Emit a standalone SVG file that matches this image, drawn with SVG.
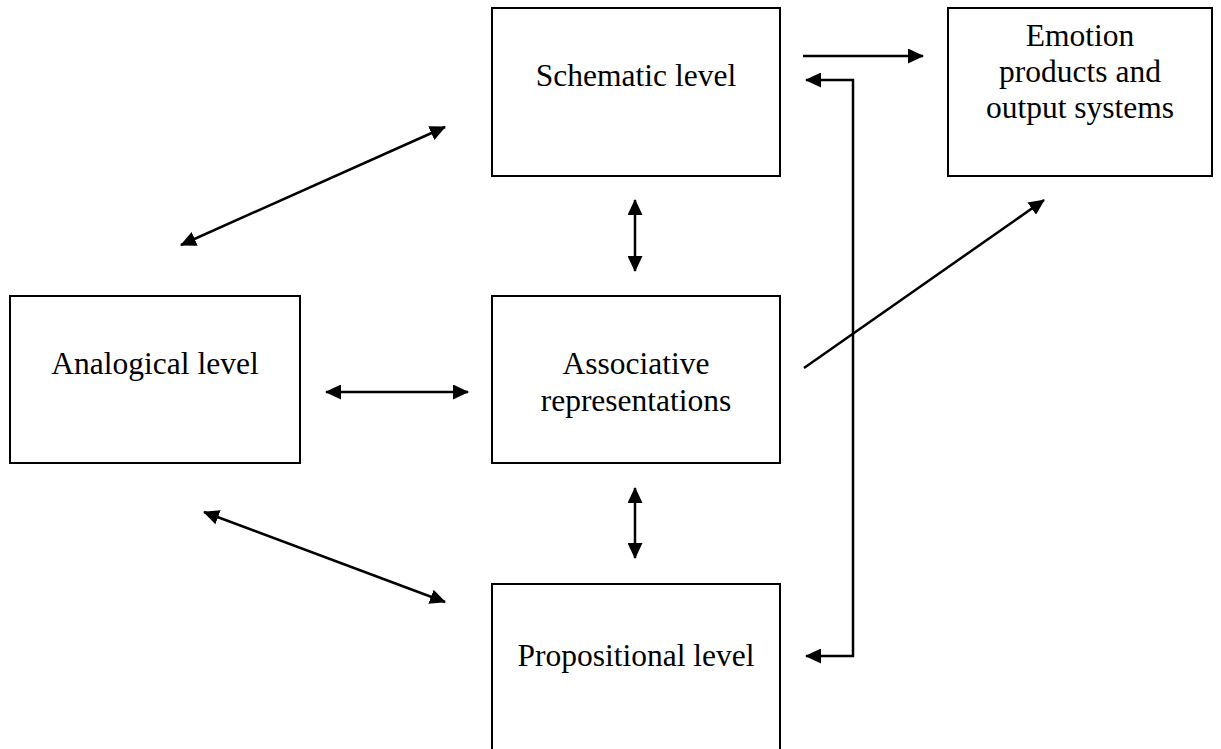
<svg xmlns="http://www.w3.org/2000/svg" width="1221" height="749" viewBox="0 0 1221 749">
<style>
.box{fill:#fff;stroke:#000;stroke-width:2}
.t{font-family:"Liberation Serif","Times New Roman",serif;font-size:31.5px;fill:#000;text-anchor:middle}
.c{stroke:#000;stroke-width:2.5;fill:none}
</style>
<defs>
<marker id="ah" viewBox="0 0 16 15" refX="15" refY="7.5" markerWidth="16" markerHeight="15" markerUnits="userSpaceOnUse" orient="auto-start-reverse">
<path d="M0,0 L16,7.5 L0,15 Z" fill="#000"/>
</marker>
</defs>
<rect width="1221" height="749" fill="#fff"/>
<g id="schematic"><rect class="box" x="492" y="8" width="288" height="168"/><text class="t" x="636" y="86">Schematic level</text></g>
<g id="emotion"><rect class="box" x="948" y="8" width="264" height="168"/><text class="t" x="1080" y="46">Emotion</text><text class="t" x="1080" y="82">products and</text><text class="t" x="1080" y="118">output systems</text></g>
<g id="analogical"><rect class="box" x="10" y="296" width="290" height="167"/><text class="t" x="155" y="374">Analogical level</text></g>
<g id="associative"><rect class="box" x="492" y="296" width="288" height="167"/><text class="t" x="636" y="374">Associative</text><text class="t" x="636" y="411">representations</text></g>
<g id="propositional"><rect class="box" x="492" y="584" width="288" height="180"/><text class="t" x="636" y="666">Propositional level</text></g>
<g id="connectors">
<line class="c" x1="803" y1="56" x2="923" y2="56" marker-end="url(#ah)"/>
<polyline class="c" points="806,80 853,80 853,656 806,656" marker-start="url(#ah)" marker-end="url(#ah)"/>
<line class="c" x1="181" y1="245" x2="445" y2="127" marker-start="url(#ah)" marker-end="url(#ah)"/>
<line class="c" x1="635" y1="200" x2="635" y2="271" marker-start="url(#ah)" marker-end="url(#ah)"/>
<line class="c" x1="326" y1="392" x2="468" y2="392" marker-start="url(#ah)" marker-end="url(#ah)"/>
<line class="c" x1="804" y1="368" x2="1044" y2="200" marker-end="url(#ah)"/>
<line class="c" x1="635" y1="488" x2="635" y2="558" marker-start="url(#ah)" marker-end="url(#ah)"/>
<line class="c" x1="204" y1="512" x2="445" y2="602" marker-start="url(#ah)" marker-end="url(#ah)"/>
</g>
</svg>
